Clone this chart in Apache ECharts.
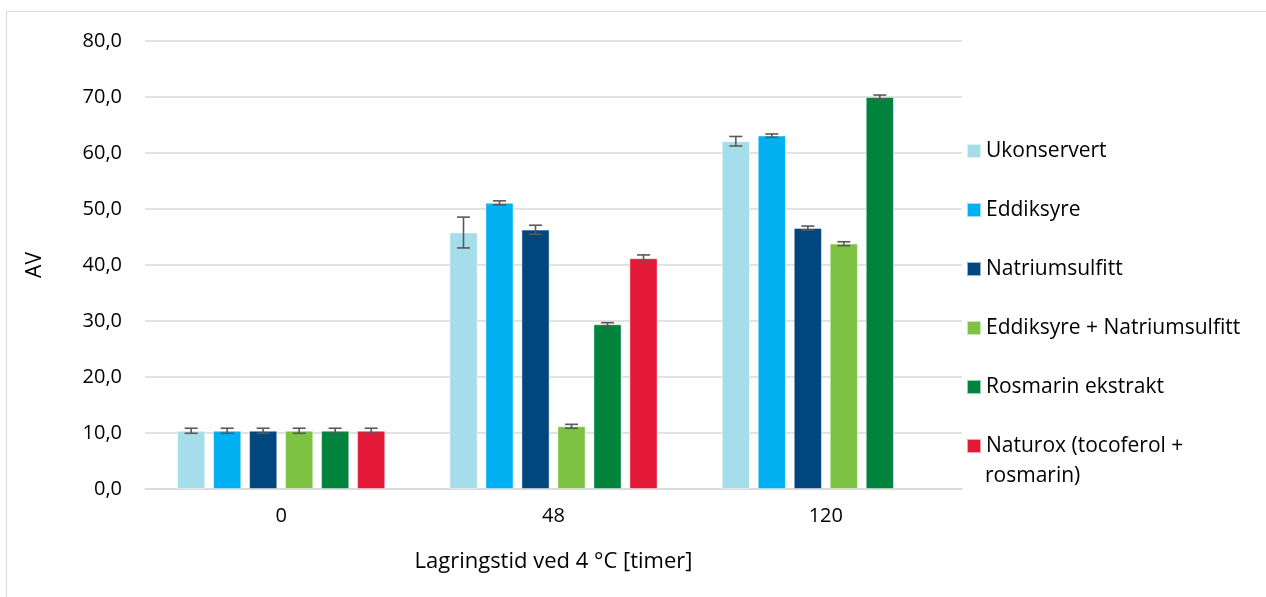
<!DOCTYPE html>
<html><head><meta charset="utf-8">
<script src="https://cdn.jsdelivr.net/npm/echarts@6/dist/echarts.min.js"></script>
<style>html,body{margin:0;padding:0;background:#fff}#c{width:1266px;height:597px}</style>
</head><body><div id="c"></div>
<script>
const categories = ['0', '48', '120'];
const seriesNames = ['Ukonservert', 'Eddiksyre', 'Natriumsulfitt', 'Eddiksyre + Natriumsulfitt', 'Rosmarin ekstrakt', 'Naturox (tocoferol + rosmarin)'];
const ukonservert = [10.4, 45.8, 62.1];
const eddiksyre = [10.4, 51.1, 63.1];
const natriumsulfitt = [10.4, 46.3, 46.6];
const eddiksyreNatrium = [10.4, 11.2, 43.8];
const rosmarin = [10.4, 29.4, 70.0];
const naturox = [10.4, 41.2, null];
const errUkonservert = [0.45, 2.75, 0.85];
const errEddiksyre = [0.45, 0.35, 0.3];
const errNatrium = [0.45, 0.8, 0.35];
const errEddiksyreNatrium = [0.45, 0.35, 0.35];
const errRosmarin = [0.45, 0.3, 0.35];
const errNaturox = [0.45, 0.6, null];
const yTicks = {min: 0, max: 80, interval: 10};

const values = [ukonservert, eddiksyre, natriumsulfitt, eddiksyreNatrium, rosmarin, naturox];
const errors = [errUkonservert, errEddiksyre, errNatrium, errEddiksyreNatrium, errRosmarin, errNaturox];
const colors = ['#A5DEEA', '#00B0F0', '#00467F', '#7DC242', '#00843D', '#E31937'];
const FONT = '"Open Sans", "Noto Sans", sans-serif';
const BAR_W = 28, BAR_STEP = 36;

const chart = echarts.init(document.getElementById('c'), null, {renderer: 'canvas'});
const series = [];
seriesNames.forEach((name, i) => {
  series.push({
    name: name, type: 'bar', data: values[i], barWidth: BAR_W, barGap: ((BAR_STEP - BAR_W) / BAR_W * 100).toFixed(2) + '%',
    itemStyle: {color: colors[i], borderColor: 'rgba(255,255,255,0.6)', borderWidth: 0.8},
    z: 2
  });
});
seriesNames.forEach((name, i) => {
  const data = categories.map((c, k) => values[i][k] == null ? null : [k, values[i][k], errors[i][k]]).filter(d => d);
  series.push({
    type: 'custom', name: name, z: 5, silent: true,
    data: data,
    renderItem: function (params, api) {
      const k = api.value(0), v = api.value(1), e = api.value(2);
      const c = api.coord([k, v]);
      const x = c[0] + (i - 2.5) * BAR_STEP;
      const top = api.coord([k, v + e])[1];
      const bot = api.coord([k, v - e])[1];
      const hw = 6.5;
      const st = {stroke: '#595959', lineWidth: 1.6};
      return {type: 'group', children: [
        {type: 'line', shape: {x1: x, y1: top, x2: x, y2: bot}, style: st},
        {type: 'line', shape: {x1: x - hw, y1: top, x2: x + hw, y2: top}, style: st},
        {type: 'line', shape: {x1: x - hw, y1: bot, x2: x + hw, y2: bot}, style: st}
      ]};
    }
  });
});

chart.setOption({
  animation: false,
  textStyle: {fontFamily: FONT},
  graphic: [
    {type: 'rect', shape: {x: 6.5, y: 11.5, width: 1300, height: 700}, style: {fill: 'none', stroke: '#d9d9d9', lineWidth: 1}, silent: true},
    {type: 'text', left: 985, top: 466, silent: true, style: {text: 'rosmarin)', font: '21px ' + FONT, fill: '#000'}}
  ],
  grid: {left: 145, right: 304, top: 41, bottom: 108},
  legend: {
    orient: 'vertical', left: 966, top: 136, padding: 0,
    itemWidth: 14, itemHeight: 14, itemGap: 29, icon: 'rect',
    data: seriesNames,
    formatter: n => n === seriesNames[5] ? 'Naturox (tocoferol +' : n,
    textStyle: {fontFamily: FONT, fontSize: 21, color: '#000', lineHeight: 30}
  },
  xAxis: {
    type: 'category', data: categories,
    axisLine: {lineStyle: {color: '#d9d9d9', width: 1.5}},
    axisTick: {show: false},
    axisLabel: {fontFamily: FONT, fontSize: 20, color: '#000', margin: 17},
    name: 'Lagringstid ved 4 °C [timer]', nameLocation: 'middle', nameGap: 62,
    nameTextStyle: {fontFamily: FONT, fontSize: 22, color: '#000'}
  },
  yAxis: {
    type: 'value', min: yTicks.min, max: yTicks.max, interval: yTicks.interval,
    axisLine: {show: false}, axisTick: {show: false},
    splitLine: {lineStyle: {color: '#d9d9d9', width: 1.5}},
    axisLabel: {fontFamily: FONT, fontSize: 20, color: '#000', margin: 23, formatter: v => v.toFixed(1).replace('.', ',')},
    name: 'AV', nameLocation: 'middle', nameGap: 99, nameRotate: 90,
    nameTextStyle: {fontFamily: FONT, fontSize: 21, color: '#000'}
  },
  series: series
});
</script></body></html>
